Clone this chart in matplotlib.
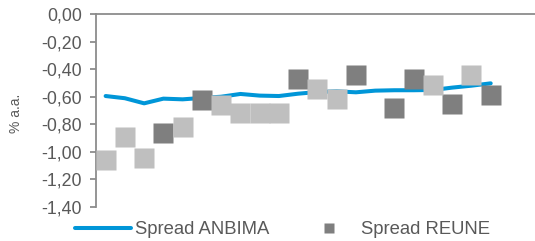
import numpy as np
import matplotlib
matplotlib.use("Agg")
import matplotlib.pyplot as plt

plt.rcParams['font.family'] = ['Liberation Sans', 'DejaVu Sans']

# Data
anbima = [-0.595, -0.611, -0.648, -0.614, -0.619, -0.609, -0.600, -0.580, -0.592, -0.595,
          -0.578, -0.566, -0.561, -0.568, -0.556, -0.553, -0.553, -0.551, -0.534, -0.520, -0.503]
reune = [-1.062, -0.890, -1.047, -0.861, -0.822, -0.627, -0.662, -0.720, -0.720, -0.720,
         -0.475, -0.547, -0.613, -0.439, np.nan, -0.685, -0.475, -0.518, -0.656, -0.439, -0.584]
reune_dark = [0, 0, 0, 1, 0, 1, 0, 0, 0, 0,
              1, 0, 0, 1, 0, 1, 1, 0, 1, 0, 1]
yticks = [0.0, -0.2, -0.4, -0.6, -0.8, -1.0, -1.2, -1.4]
ytick_labels = ["0,00", "-0,20", "-0,40", "-0,60", "-0,80", "-1,00", "-1,20", "-1,40"]

blue = "#0096D8"
dark = "#7F7F7F"
light = "#BFBFBF"
txt = "#595959"
axc = "#8C8C8C"

W, H = 535, 241
fig = plt.figure(figsize=(W / 100, H / 100), dpi=100)
ax = fig.add_axes([96 / W, 1 - 207 / H, (535 - 96) / W, (207 - 14) / H])

x = np.arange(len(anbima))
r = np.array(reune)
d = np.array(reune_dark, dtype=bool)

ax.plot(x, anbima, color=blue, lw=2.9, solid_capstyle='round', label="Spread ANBIMA", zorder=2)
ax.plot(x[d], r[d], ls='none', marker='s', ms=13.7, mec='none', color=dark,
        label="Spread REUNE", zorder=3)
ax.plot(x[~d], r[~d], ls='none', marker='s', ms=13.7, mec='none', color=light, zorder=3)

ax.set_xlim(-0.5, 22.3)
ax.set_ylim(-1.4, 0.0)
ax.set_yticks(yticks)
ax.set_yticklabels(ytick_labels)
ax.set_xticks([])

for s in ['right', 'bottom']:
    ax.spines[s].set_visible(False)
for s in ['left', 'top']:
    ax.spines[s].set_color(axc)
    ax.spines[s].set_linewidth(1.3)

ax.tick_params(axis='y', direction='out', length=4.3, width=1.3, color=axc,
               labelsize=12.8, labelcolor=txt, pad=6)
ax.set_ylabel("% a.a.", fontsize=10, color=txt)
ax.yaxis.set_label_coords(-0.166, 0.487)

leg = fig.legend(loc='center left', bbox_to_anchor=(75 / W, 1 - 230 / H), ncol=2, frameon=False,
                 fontsize=13.3, handlelength=3.03, handletextpad=0.22, columnspacing=1.7,
                 markerscale=0.53, borderaxespad=0, borderpad=0)
for t in leg.get_texts():
    t.set_color(txt)

fig.savefig("out.png", dpi=100)
